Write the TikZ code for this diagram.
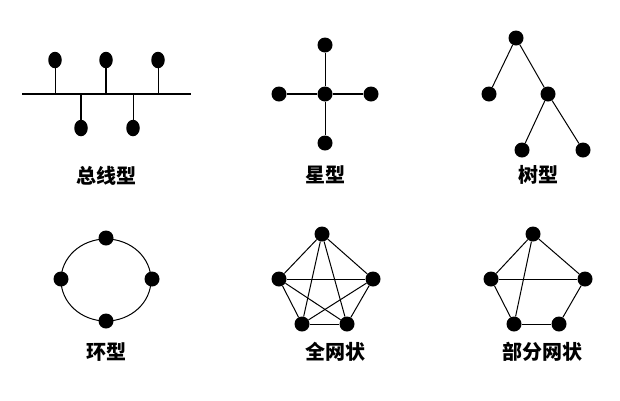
\documentclass[tikz,border=0pt]{standalone}
\usepackage{fontspec}
\usetikzlibrary{shapes.geometric}
\newfontfamily\cjk{Noto Sans CJK SC}
\begin{document}
\begin{tikzpicture}[x=1pt,y=-1pt,
  dot/.style={circle,fill=black,draw=none,inner sep=0pt,minimum size=15pt},
  busdot/.style={ellipse,fill=black,draw=none,inner sep=0pt,minimum width=13.5pt,minimum height=16.5pt},
  thinln/.style={line width=1pt},
  thickln/.style={line width=2pt},
  lbl/.style={font=\cjk\bfseries\fontsize{20}{20}\selectfont,inner sep=0pt}]
\useasboundingbox (0,0) rectangle (620,400);
% ---- Bus
\coordinate (busL) at (22,94);
\coordinate (busR) at (191,94);
\draw[thickln] (busL) -- (busR);
\node[busdot] (b1) at (55,60) {};
\node[busdot] (b2) at (106,60) {};
\node[busdot] (b3) at (158,60) {};
\node[busdot] (b4) at (81,128) {};
\node[busdot] (b5) at (133,128) {};
\coordinate (t1) at (55,94);
\coordinate (t2) at (106,94);
\coordinate (t3) at (158,94);
\coordinate (t4) at (81,94);
\coordinate (t5) at (133,94);
\draw[thinln] (b1) -- (t1);
\draw[thickln] (b2) -- (t2);
\draw[thinln] (b3) -- (t3);
\draw[thickln] (b4) -- (t4);
\draw[thinln] (b5) -- (t5);
\node[lbl] (lbus) at (106,176) {总线型};
% ---- Star
\node[dot] (sc) at (325,94) {};
\node[dot] (st) at (325,45) {};
\node[dot] (sb) at (325,143) {};
\node[dot] (sl) at (279,94) {};
\node[dot] (sr) at (371,94) {};
\draw[thinln] (sc) -- (st);
\draw[thinln] (sc) -- (sb);
\draw[thickln] (sc) -- (sl);
\draw[thickln] (sc) -- (sr);
\node[lbl] (lstar) at (325,175) {星型};
% ---- Tree
\node[dot] (tr) at (516,38) {};
\node[dot] (tl) at (489,94) {};
\node[dot] (tm) at (548,94) {};
\node[dot] (tbl) at (522,150) {};
\node[dot] (tbr) at (583,150) {};
\draw[thinln] (tr) -- (tl);
\draw[thinln] (tr) -- (tm);
\draw[thinln] (tm) -- (tbl);
\draw[thinln] (tm) -- (tbr);
\node[lbl] (ltree) at (538,175) {树型};
% ---- Ring
\draw[thinln] (106,280) ellipse [x radius=45, y radius=41];
\node[dot] (rt) at (106,238) {};
\node[dot] (rl) at (61,279) {};
\node[dot] (rr) at (152,279) {};
\node[dot] (rb) at (106,321) {};
\node[lbl] (lring) at (106,352) {环型};
% ---- Full mesh
\node[dot] (ft) at (322,234) {};
\node[dot] (fl) at (279,279) {};
\node[dot] (fr) at (373,279) {};
\node[dot] (fbl) at (302,324) {};
\node[dot] (fbr) at (347,324) {};
\foreach \a/\b in {ft/fl,ft/fr,ft/fbl,ft/fbr,fl/fr,fl/fbl,fl/fbr,fr/fbl,fr/fbr,fbl/fbr}
  \draw[thinln] (\a) -- (\b);
\node[lbl] (lfull) at (335,352) {全网状};
% ---- Partial mesh
\node[dot] (pt) at (533,234) {};
\node[dot] (pl) at (491,279) {};
\node[dot] (pr) at (585,279) {};
\node[dot] (pbl) at (514,324) {};
\node[dot] (pbr) at (559,324) {};
\foreach \a/\b in {pt/pl,pt/pr,pt/pbl,pl/pr,pl/pbl,pr/pbr,pbl/pbr}
  \draw[thinln] (\a) -- (\b);
\node[lbl] (lpart) at (542,352) {部分网状};
\end{tikzpicture}
\end{document}
